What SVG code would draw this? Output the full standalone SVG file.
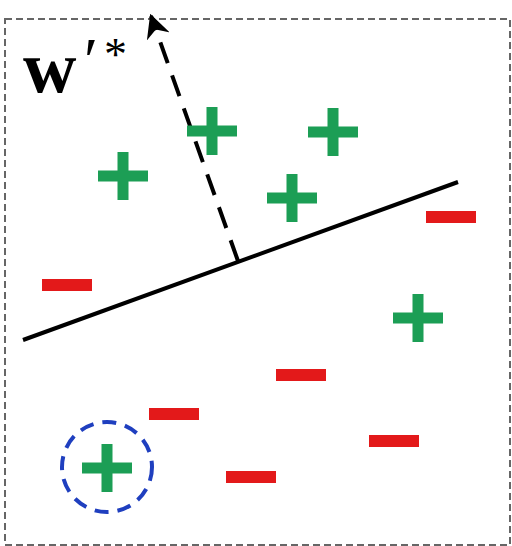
<svg xmlns="http://www.w3.org/2000/svg" width="512" height="546" viewBox="0 0 512 546">
<style>
.plus{stroke:#1c9e55;stroke-width:11;fill:none}
.minus{fill:#e3191a}
.frame{fill:none;stroke:#666;stroke-width:2;stroke-dasharray:7 4}
</style>
<defs>
<marker id="ah" viewBox="0 0 10 10" refX="9" refY="5" markerWidth="6" markerHeight="6" orient="auto" markerUnits="strokeWidth">
<path d="M0,0 L10,5 L0,10 L3,5 z" fill="#000"/>
</marker>
<path id="p" d="M-25,0 H25 M0,-24 V24"/>
<rect id="m" x="-25" y="-6" width="50" height="12"/>
</defs>
<rect width="512" height="546" fill="#fff"/>
<rect class="frame" x="5" y="19" width="505" height="526"/>
<g id="label">
<text x="23" y="92" font-family="Liberation Serif, serif" font-weight="bold" font-size="74">w</text>
<text x="84" y="82" font-family="Liberation Serif, serif" font-size="64">′</text>
<text x="104" y="70" font-family="Liberation Serif, serif" font-size="46">*</text>
</g>
<g id="connectors">
<line x1="23" y1="340" x2="458" y2="182" stroke="#000" stroke-width="4"/>
<line x1="238" y1="261" x2="151" y2="16" stroke="#000" stroke-width="4" stroke-dasharray="22 13" marker-end="url(#ah)"/>
</g>
<g id="pos1" class="plus"><use href="#p" x="123" y="176"/></g>
<g id="pos2" class="plus"><use href="#p" x="212" y="131"/></g>
<g id="pos3" class="plus"><use href="#p" x="333" y="132"/></g>
<g id="pos4" class="plus"><use href="#p" x="292" y="198"/></g>
<g id="pos5" class="plus"><use href="#p" x="418" y="318"/></g>
<g id="pos6" class="plus"><use href="#p" x="107" y="468"/></g>
<g id="neg1" class="minus"><use href="#m" x="67" y="285"/></g>
<g id="neg2" class="minus"><use href="#m" x="451" y="217"/></g>
<g id="neg3" class="minus"><use href="#m" x="301" y="375"/></g>
<g id="neg4" class="minus"><use href="#m" x="174" y="414"/></g>
<g id="neg5" class="minus"><use href="#m" x="394" y="441"/></g>
<g id="neg6" class="minus"><use href="#m" x="251" y="477"/></g>
<g id="highlight"><circle cx="107" cy="467" r="45" fill="none" stroke="#1f3fbf" stroke-width="4" stroke-dasharray="14 9"/></g>
</svg>
